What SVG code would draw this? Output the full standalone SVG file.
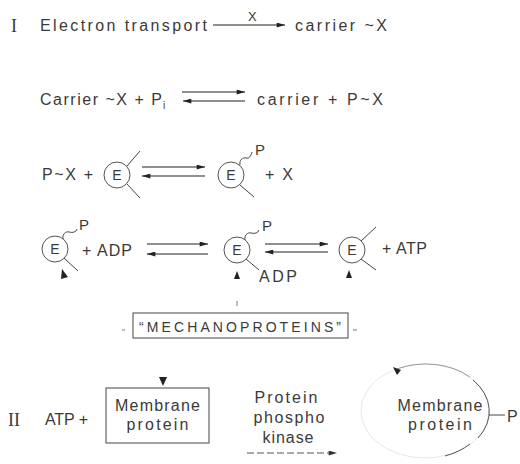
<svg xmlns="http://www.w3.org/2000/svg" width="520" height="464" viewBox="0 0 520 464">
<defs>
<marker id="ah" viewBox="0 0 10 6" refX="10" refY="3" markerWidth="11" markerHeight="5" markerUnits="userSpaceOnUse" orient="auto"><path d="M0,0 L10,3 L0,6 z" fill="#222"/></marker>
<marker id="ahg" viewBox="0 0 10 6" refX="10" refY="3" markerWidth="11" markerHeight="5" markerUnits="userSpaceOnUse" orient="auto"><path d="M0,0 L10,3 L0,6 z" fill="#333"/></marker>
</defs>
<style>
text{font-family:"Liberation Sans",Arial,sans-serif;font-size:16px;fill:#3a3a3a}
.rn{font-family:"Liberation Serif","Times New Roman",serif;font-size:18px}
.e{font-size:14px;text-anchor:middle}
.sm{font-size:13px}
.c{text-anchor:middle}
.ln{stroke:#444;stroke-width:1;fill:none}
.lt{stroke:#777;stroke-width:1;fill:none}
.arr{stroke:#222;stroke-width:1.1;fill:none;marker-end:url(#ah)}
.circ{stroke:#555;stroke-width:1;fill:none}
.box{stroke:#444;stroke-width:1;fill:none}
.tri{fill:#222}
</style>

<!-- Row I -->
<g id="row1">
<text class="rn" x="11" y="32">I</text>
<text x="40" y="31" textLength="167" lengthAdjust="spacing">Electron transport</text>
<text class="sm" x="248" y="21">X</text>
<text x="295" y="31" textLength="92" lengthAdjust="spacing">carrier ~X</text>
</g>

<!-- Row 2 -->
<g id="row2">
<text x="40" y="105" textLength="122" lengthAdjust="spacing">Carrier ~X + P</text>
<text x="163" y="109" style="font-size:10px">i</text>
<text x="257" y="105" textLength="126" lengthAdjust="spacing">carrier  + P~X</text>
</g>

<!-- Row 3 -->
<g id="row3">
<text x="42" y="180" textLength="51" lengthAdjust="spacing">P~X +</text>
<g id="E1">
<circle class="circ" cx="117" cy="175" r="13"/>
<text class="e" x="117" y="180">E</text>
<path class="ln" d="M127,166 L140,151 M127,184 L140,198"/>
</g>
<g id="E2">
<circle class="circ" cx="231" cy="175" r="13"/>
<text class="e" x="231" y="180">E</text>
<path class="ln" d="M240,165 C239,160 243,157 246,158 C249,159 251,156 252,152 M240,185 L254,197"/>
<text x="255" y="155" style="font-size:15px">P</text>
</g>
<text x="265" y="180" textLength="28" lengthAdjust="spacing">+ X</text>
</g>

<!-- Row 4 -->
<g id="row4">
<g id="E3">
<circle class="circ" cx="55" cy="249" r="13"/>
<text class="e" x="55" y="254">E</text>
<path class="ln" d="M63,239 C62,234 66,231 69,232 C73,233 76,232 77,229 M64,258 L78,271"/>
<text x="79" y="230" style="font-size:15px">P</text>
<path class="tri" d="M62,269 L68,277 L61,279 z"/>
</g>
<text x="82" y="256" textLength="50" lengthAdjust="spacing">+ ADP</text>
<g id="E4">
<circle class="circ" cx="237" cy="250" r="13"/>
<text class="e" x="237" y="255">E</text>
<path class="ln" d="M245,240 C244,235 248,232 251,233 C255,234 258,233 259,230 M246,259 L259,270"/>
<text x="262" y="231" style="font-size:15px">P</text>
<text x="259" y="282" textLength="38" lengthAdjust="spacing">ADP</text>
<path class="tri" d="M237,271 L240,279 L234,279 z"/>
</g>
<g id="E5">
<circle class="circ" cx="352" cy="250" r="13"/>
<text class="e" x="352" y="255">E</text>
<path class="ln" d="M361,241 L376,227 M361,259 L376,270"/>
<path class="tri" d="M349,270 L352,278 L346,278 z"/>
</g>
<text x="382" y="254" textLength="45" lengthAdjust="spacing">+ ATP</text>
</g>

<!-- Mechanoproteins -->
<g id="mechano">
<rect class="box" x="133" y="313" width="215" height="25"/>
<text x="139" y="332" style="font-size:14px" textLength="202" lengthAdjust="spacing">“MECHANOPROTEINS”</text>
<path class="lt" d="M237,301 L237,306 M122,330 L125,330 M353,330 L357,330"/>
</g>

<!-- Row II -->
<g id="row6">
<text class="rn" x="8" y="426">II</text>
<text x="45" y="425" textLength="43" lengthAdjust="spacing">ATP +</text>
<g id="membrane1">
<rect class="box" x="106" y="388" width="103" height="55"/>
<text class="c" x="157.5" y="411" textLength="85" lengthAdjust="spacing">Membrane</text>
<text class="c" x="157.5" y="430" textLength="62" lengthAdjust="spacing">protein</text>
<path class="tri" d="M159,377 L167,377 L163,386 z"/>
</g>
<g id="kinase">
<text class="c" x="286" y="403" textLength="63" lengthAdjust="spacing">Protein</text>
<text class="c" x="289" y="423" textLength="71" lengthAdjust="spacing">phospho</text>
<text class="c" x="288" y="443" textLength="51" lengthAdjust="spacing">kinase</text>
</g>
<g id="membrane2">
<ellipse cx="425" cy="411" rx="64" ry="47" fill="none" stroke="#e8e8e8" stroke-width="1"/>
<path d="M397,369 A64,47 0 0 1 470,377" fill="none" stroke="#999" stroke-width="1"/>
<path d="M473,380 A64,47 0 0 1 478,438" fill="none" stroke="#555" stroke-width="1"/>
<path d="M470,444 A64,47 0 0 1 445,456" fill="none" stroke="#555" stroke-width="1"/>
<path class="tri" d="M393,367 L401,370 L397,375 z"/>
<text class="c" x="440" y="411" textLength="85" lengthAdjust="spacing">Membrane</text>
<text class="c" x="440" y="430" textLength="64" lengthAdjust="spacing">protein</text>
<path class="ln" d="M489,415 L505,415"/>
<text x="507" y="422">P</text>
</g>
</g>

<!-- Connectors -->
<g id="connectors">
<path class="arr" d="M213,25 L285,25"/>
<path class="arr" d="M182,92 L245,92"/>
<path class="arr" d="M245,101 L183,101"/>
<path class="arr" d="M142,167 L205,167"/>
<path class="arr" d="M205,176 L142,176"/>
<path class="arr" d="M147,244 L208,244"/>
<path class="arr" d="M208,254 L147,254"/>
<path class="arr" d="M265,244 L328,244"/>
<path class="arr" d="M328,252 L265,252"/>
<path d="M247,453 L337,453" fill="none" stroke="#555" stroke-width="1" stroke-dasharray="7,3" marker-end="url(#ahg)"/>
</g>
</svg>
